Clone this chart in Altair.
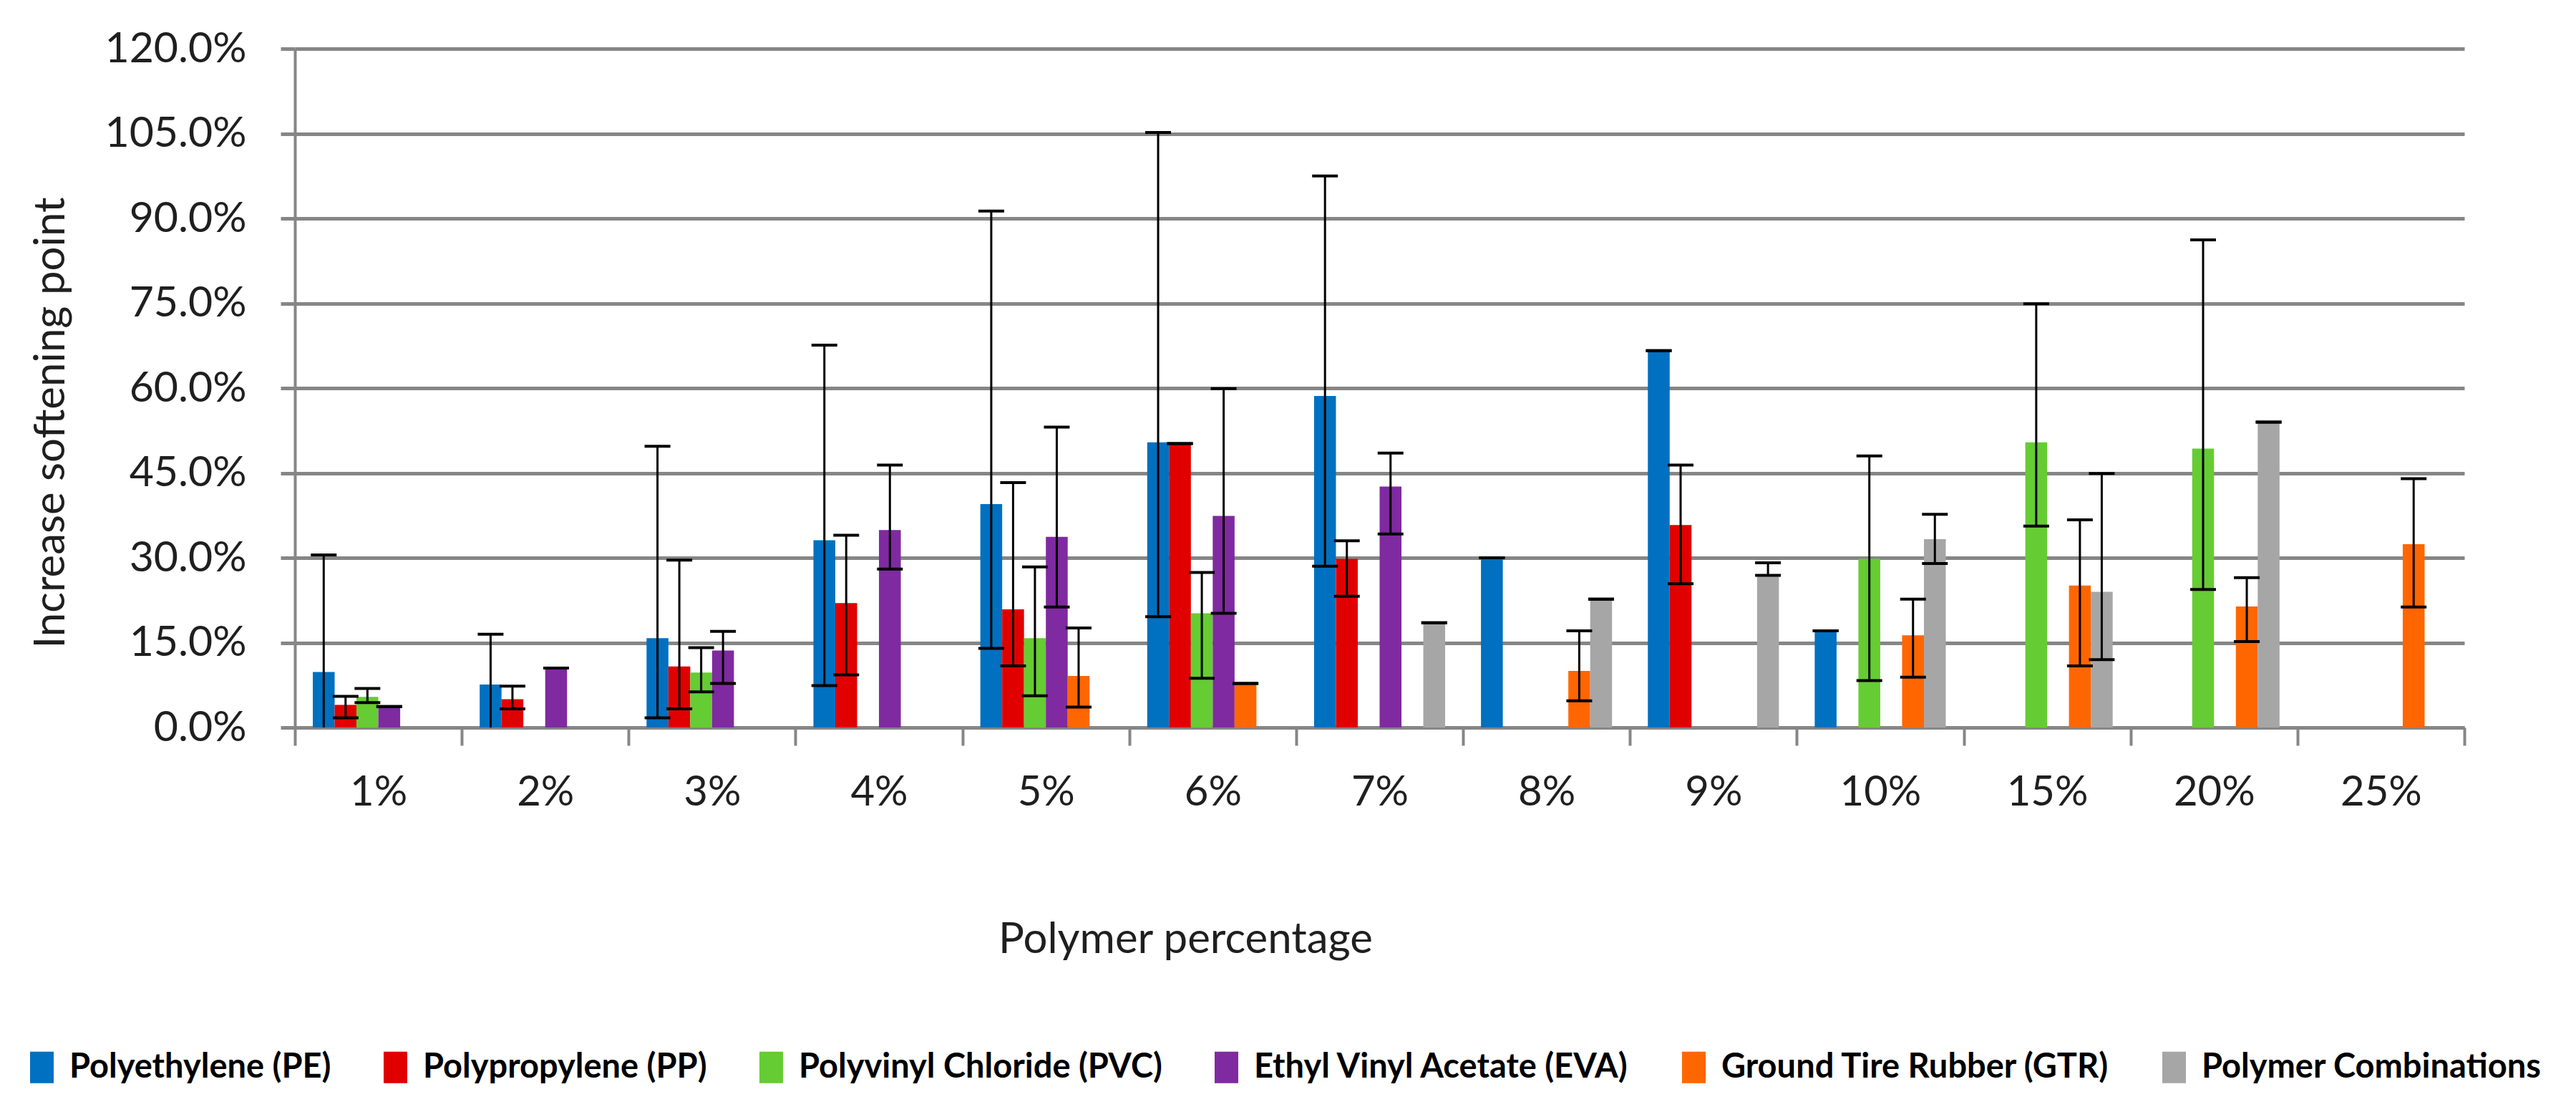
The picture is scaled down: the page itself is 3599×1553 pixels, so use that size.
import altair as alt
import pandas as pd

categories = ["1%", "2%", "3%", "4%", "5%", "6%", "7%", "8%", "9%", "10%", "15%", "20%", "25%"]
series_names = [
    "Polyethylene (PE)",
    "Polypropylene (PP)",
    "Polyvinyl Chloride (PVC)",
    "Ethyl Vinyl Acetate (EVA)",
    "Ground Tire Rubber (GTR)",
    "Polymer Combinations",
]
colors = ["#0070C0", "#E00000", "#66CC33", "#7F2AA0", "#FF6600", "#A6A6A6"]

# values (%), None = no bar
pe_val = [9.8, 7.6, 15.8, 33.1, 39.5, 50.4, 58.6, 30.0, 66.6, 17.1, None, None, None]
pe_hi = [30.5, 16.5, 49.7, 67.6, 91.3, 105.2, 97.5, 30.0, 66.6, 17.1, None, None, None]
pe_lo = [None, None, 1.7, 7.4, 14.0, 19.6, 28.5, 30.0, 66.6, 17.1, None, None, None]

pp_val = [4.0, 5.0, 10.8, 22.0, 20.9, 50.2, 29.8, None, 35.8, None, None, None, None]
pp_hi = [5.5, 7.3, 29.6, 34.0, 43.3, 50.2, 33.0, None, 46.4, None, None, None, None]
pp_lo = [1.7, 3.3, 3.3, 9.3, 10.9, 50.2, 23.2, None, 25.4, None, None, None, None]

pvc_val = [5.4, None, 9.7, None, 15.8, 20.2, None, None, None, 29.8, 50.4, 49.3, None]
pvc_hi = [6.9, None, 14.1, None, 28.4, 27.4, None, None, None, 48.0, 74.9, 86.2, None]
pvc_lo = [4.4, None, 6.3, None, 5.6, 8.7, None, None, None, 8.3, 35.6, 24.4, None]

eva_val = [3.7, 10.5, 13.6, 34.9, 33.7, 37.4, 42.6, None, None, None, None, None, None]
eva_hi = [3.7, 10.5, 17.0, 46.4, 53.1, 59.9, 48.5, None, None, None, None, None, None]
eva_lo = [3.7, 10.5, 7.8, 28.0, 21.3, 20.2, 34.2, None, None, None, None, None, None]

gtr_val = [None, None, None, None, 9.1, 7.8, None, 10.0, None, 16.3, 25.1, 21.4, 32.4]
gtr_hi = [None, None, None, None, 17.6, 7.8, None, 17.1, None, 22.7, 36.7, 26.5, 44.0]
gtr_lo = [None, None, None, None, 3.6, 7.8, None, 4.7, None, 8.9, 10.9, 15.2, 21.3]

comb_val = [None, None, None, None, None, None, 18.5, 22.7, 26.9, 33.3, 24.0, 54.0, None]
comb_hi = [None, None, None, None, None, None, 18.5, 22.7, 29.1, 37.7, 44.9, 54.0, None]
comb_lo = [None, None, None, None, None, None, 18.5, 22.7, 26.9, 29.0, 12.0, 54.0, None]

all_vals = [pe_val, pp_val, pvc_val, eva_val, gtr_val, comb_val]
all_hi = [pe_hi, pp_hi, pvc_hi, eva_hi, gtr_hi, comb_hi]
all_lo = [pe_lo, pp_lo, pvc_lo, eva_lo, gtr_lo, comb_lo]

rows = []
lowcaps = []
for s, vals, his, los in zip(series_names, all_vals, all_hi, all_lo):
    for c, v, hi, lo in zip(categories, vals, his, los):
        if v is None:
            continue
        rows.append({"cat": c, "series": s, "value": v, "hi": hi,
                     "lo": lo if lo is not None else 0.0})
        if lo is not None:
            lowcaps.append({"cat": c, "series": s, "lo": lo})
df = pd.DataFrame(rows)
df_low = pd.DataFrame(lowcaps)

GRAY = "#868686"
TXT = "#1f1f1f"
FONT = "Lato"

x_enc = alt.X(
    "cat:N",
    sort=categories,
    scale=alt.Scale(domain=categories, paddingInner=0, paddingOuter=0),
    axis=alt.Axis(
        labelAngle=0,
        tickBand="extent",
        tickSize=25,
        tickWidth=4,
        tickColor=GRAY,
        domainColor=GRAY,
        domainWidth=5,
        grid=False,
        labelPadding=37,
        labelFont=FONT,
        labelFontSize=58,
        labelColor=TXT,
        labelLimit=0,
        title="Polymer percentage",
        titleFont=FONT,
        titleFontSize=60,
        titleFontWeight="normal",
        titleColor=TXT,
        titleX=1244,
        titleY=296,
        titleBaseline="middle",
        titleAlign="center",
        titleLimit=0,
    ),
)
xo_enc = alt.XOffset(
    "series:N",
    sort=series_names,
    scale=alt.Scale(domain=series_names, paddingInner=0, paddingOuter=0.82),
)

y_axis = alt.Axis(
    values=[0, 15, 30, 45, 60, 75, 90, 105, 120],
    labelExpr="format(datum.value, '.1f') + '%'",
    grid=True,
    gridColor=GRAY,
    gridWidth=5,
    domainColor=GRAY,
    domainWidth=4,
    tickColor=GRAY,
    tickWidth=5,
    tickSize=20,
    labelPadding=48,
    labelFont=FONT,
    labelFontSize=59,
    labelColor=TXT,
    labelLimit=0,
    title="Increase softening point",
    titleFont=FONT,
    titleFontSize=60,
    titleFontWeight="normal",
    titleColor=TXT,
    titleX=-341,
    titleY=522,
    titleAngle=270,
    titleAlign="center",
    titleBaseline="middle",
    titleLimit=0,
)
y_scale = alt.Scale(domain=[0, 120], nice=False, zero=True)

bars = alt.Chart(df).mark_bar().encode(
    x=x_enc,
    xOffset=xo_enc,
    y=alt.Y("value:Q", scale=y_scale, axis=y_axis),
    color=alt.Color(
        "series:N",
        sort=series_names,
        scale=alt.Scale(domain=series_names, range=colors),
        legend=alt.Legend(
            title=None,
            orient="none",
            legendX=-377,
            legendY=1399,
            direction="horizontal",
            symbolType="M-0.75,-1H0.75V1H-0.75Z",
            symbolSize=1936,
            symbolStrokeWidth=0,
            symbolOpacity=1,
            labelFont=FONT,
            labelFontWeight="bold",
            labelFontSize=47,
            labelColor="#000000",
            labelOffset=15,
            labelLimit=0,
            columnPadding=66,
            padding=0,
        ),
    ),
)

rules = alt.Chart(df).mark_rule(color="black", strokeWidth=3).encode(
    x=alt.X("cat:N", sort=categories),
    xOffset=alt.XOffset("series:N", sort=series_names),
    y=alt.Y("lo:Q"),
    y2="hi:Q",
)

top_caps = alt.Chart(df).mark_tick(color="black", thickness=4, size=36, opacity=1).encode(
    x=alt.X("cat:N", sort=categories),
    xOffset=alt.XOffset("series:N", sort=series_names),
    y=alt.Y("hi:Q"),
)

low_caps = alt.Chart(df_low).mark_tick(color="black", thickness=4, size=36, opacity=1).encode(
    x=alt.X("cat:N", sort=categories),
    xOffset=alt.XOffset("series:N", sort=series_names),
    y=alt.Y("lo:Q"),
)

chart = (
    alt.layer(bars, rules, top_caps, low_caps)
    .properties(
        width=3031,
        height=948,
        autosize=alt.AutoSizeParams(type="none"),
        padding={"left": 404, "top": 60, "right": 148, "bottom": 529},
        view=alt.ViewBackground(strokeOpacity=0, strokeWidth=0),
    )
    .configure_view(strokeOpacity=0, strokeWidth=0)
    .configure_axisX(grid=False)
    .configure_axisY(gridOpacity=1)
    .configure(background="white")
)

chart.save("out.html", embed_options={"renderer": "svg", "actions": False})
